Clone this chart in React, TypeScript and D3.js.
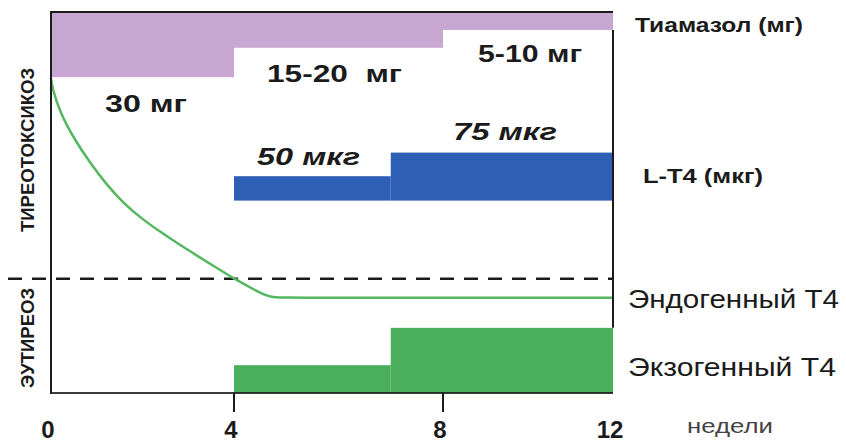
import React from "react";
import * as d3 from "d3";

// ---- data ----
const weekTicks = [0, 4, 8, 12];
const tickedWeeks = [4, 8];

// Тиамазол: dose bands hanging from the top (level units, 0..100)
const thiamazoleStart = [0, 4, 8];
const thiamazoleEnd = [4, 8, 12];
const thiamazoleBottom = [82.9, 90.6, 95.3];
const thiamazoleLabels = ["30 мг", "15-20  мг", "5-10 мг"];

// L-T4 dose bands
const lt4Start = [4, 7];
const lt4End = [7, 12];
const lt4Top = [56.9, 63.1];
const lt4Base = 50.5;
const lt4Labels = ["50 мкг", "75 мкг"];

// Экзогенный Т4
const exoStart = [4, 7];
const exoEnd = [7, 12];
const exoTop = [7.3, 17.1];

// Эндогенный Т4 curve
const endoWeeks = [0, 0.03, 0.2, 0.5, 0.85, 1.22, 1.6, 2.0, 2.4, 2.8, 3.2, 3.6, 4.0, 4.4, 4.7, 5.0, 12];
const endoLevel = [82.5, 80.0, 73.5, 66.8, 60.5, 54.6, 49.6, 45.6, 42.2, 39.0, 36.0, 33.0, 30.0, 27.0, 25.0, 25.0, 25.0];

const euthyroidThreshold = 30;

const W = 846;
const H = 442;
const FONT = "'Liberation Sans', Arial, Helvetica, sans-serif";

export default function App() {
  const x = d3.scaleLinear().domain([0, 4, 8, 12]).range([51, 234, 443, 613]);
  const y = d3.scaleLinear().domain([0, 100]).range([393, 12]);

  const line = d3
    .line<number>()
    .x((_, i) => x(endoWeeks[i]))
    .y((d) => y(d))
    .curve(d3.curveBasis);

  const purple = "#c8a7d3";
  const blue = "#2e5fb5";
  const green = "#4caf5b";
  const curveGreen = "#55b860";
  const ink = "#1b1b1b";

  return (
    <svg
      width={W}
      height={H}
      viewBox={`0 0 ${W} ${H}`}
      style={{ position: "absolute", left: 0, top: 0, background: "#fff" }}
      fontFamily={FONT}
    >
      {/* Тиамазол bands */}
      {thiamazoleStart.map((s, i) => (
        <rect
          key={"t" + i}
          x={x(s)}
          y={y(100)}
          width={x(thiamazoleEnd[i]) - x(s)}
          height={y(thiamazoleBottom[i]) - y(100)}
          fill={purple}
        />
      ))}

      {/* L-T4 bands */}
      {lt4Start.map((s, i) => (
        <rect
          key={"l" + i}
          x={x(s)}
          y={y(lt4Top[i])}
          width={x(lt4End[i]) - x(s)}
          height={y(lt4Base) - y(lt4Top[i])}
          fill={blue}
        />
      ))}

      {/* Экзогенный T4 */}
      {exoStart.map((s, i) => (
        <rect
          key={"e" + i}
          x={x(s)}
          y={y(exoTop[i])}
          width={x(exoEnd[i]) - x(s)}
          height={y(0) - y(exoTop[i])}
          fill={green}
        />
      ))}

      {/* threshold dashed line */}
      <line
        x1={8}
        x2={x(12)}
        y1={y(euthyroidThreshold)}
        y2={y(euthyroidThreshold)}
        stroke={ink}
        strokeWidth={2.5}
        strokeDasharray="14 10"
      />

      {/* Эндогенный T4 curve */}
      <path d={line(endoLevel) || ""} fill="none" stroke={curveGreen} strokeWidth={2.5} />

      {/* axes frame */}
      <line x1={x(0)} x2={x(12)} y1={y(100)} y2={y(100)} stroke={ink} strokeWidth={2} />
      <line x1={x(0)} x2={x(0)} y1={y(100) - 1} y2={y(0) + 1} stroke={ink} strokeWidth={2} />
      <line x1={x(0)} x2={x(12)} y1={y(0)} y2={y(0)} stroke={ink} strokeWidth={2.2} opacity={0.85} />
      <line
        x1={x(12)}
        x2={x(12)}
        y1={y(thiamazoleBottom[2])}
        y2={y(exoTop[1])}
        stroke={ink}
        strokeWidth={2}
      />
      {tickedWeeks.map((t) => (
        <line key={"tk" + t} x1={x(t)} x2={x(t)} y1={y(0)} y2={y(0) + 19} stroke={ink} strokeWidth={2} />
      ))}
      {weekTicks.map((t) => (
        <text
          key={"tl" + t}
          x={x(t) - 3}
          y={438}
          textAnchor="middle"
          fontSize={24}
          fontWeight="bold"
          fill={ink}
        >
          {t}
        </text>
      ))}
      <text x={687} y={433} fontSize={21} fill="#444" textLength={86} lengthAdjust="spacingAndGlyphs">
        недели
      </text>

      {/* dose labels */}
      <text x={105} y={112} fontSize={24} fontWeight="bold" fill={ink} textLength={82} lengthAdjust="spacingAndGlyphs">
        {thiamazoleLabels[0]}
      </text>
      <text
        x={267}
        y={82}
        fontSize={24}
        fontWeight="bold"
        fill={ink}
        textLength={135}
        lengthAdjust="spacingAndGlyphs"
        style={{ whiteSpace: "pre" }}
      >
        {thiamazoleLabels[1]}
      </text>
      <text x={478} y={62} fontSize={24} fontWeight="bold" fill={ink} textLength={104} lengthAdjust="spacingAndGlyphs">
        {thiamazoleLabels[2]}
      </text>
      <text
        x={257}
        y={165}
        fontSize={24}
        fontWeight="bold"
        fontStyle="italic"
        fill={ink}
        textLength={103}
        lengthAdjust="spacingAndGlyphs"
      >
        {lt4Labels[0]}
      </text>
      <text
        x={453}
        y={140}
        fontSize={24}
        fontWeight="bold"
        fontStyle="italic"
        fill={ink}
        textLength={104}
        lengthAdjust="spacingAndGlyphs"
      >
        {lt4Labels[1]}
      </text>

      {/* right-side legend labels */}
      <text x={635} y={32} fontSize={20} fontWeight="bold" fill={ink} textLength={168} lengthAdjust="spacingAndGlyphs">
        Тиамазол (мг)
      </text>
      <text x={643} y={183} fontSize={20} fontWeight="bold" fill={ink} textLength={120} lengthAdjust="spacingAndGlyphs">
        L-T4 (мкг)
      </text>
      <text x={628} y={308} fontSize={25} fill={ink} textLength={211} lengthAdjust="spacingAndGlyphs">
        Эндогенный Т4
      </text>
      <text x={628} y={376} fontSize={25} fill={ink} textLength={208} lengthAdjust="spacingAndGlyphs">
        Экзогенный Т4
      </text>

      {/* rotated state labels */}
      <text
        transform="translate(34,150) rotate(-90)"
        textAnchor="middle"
        fontSize={18}
        fontWeight="bold"
        fill={ink}
        textLength={164}
        lengthAdjust="spacingAndGlyphs"
      >
        ТИРЕОТОКСИКОЗ
      </text>
      <text
        transform="translate(34,338) rotate(-90)"
        textAnchor="middle"
        fontSize={18}
        fontWeight="bold"
        fill={ink}
        textLength={100}
        lengthAdjust="spacingAndGlyphs"
      >
        ЭУТИРЕОЗ
      </text>
    </svg>
  );
}
